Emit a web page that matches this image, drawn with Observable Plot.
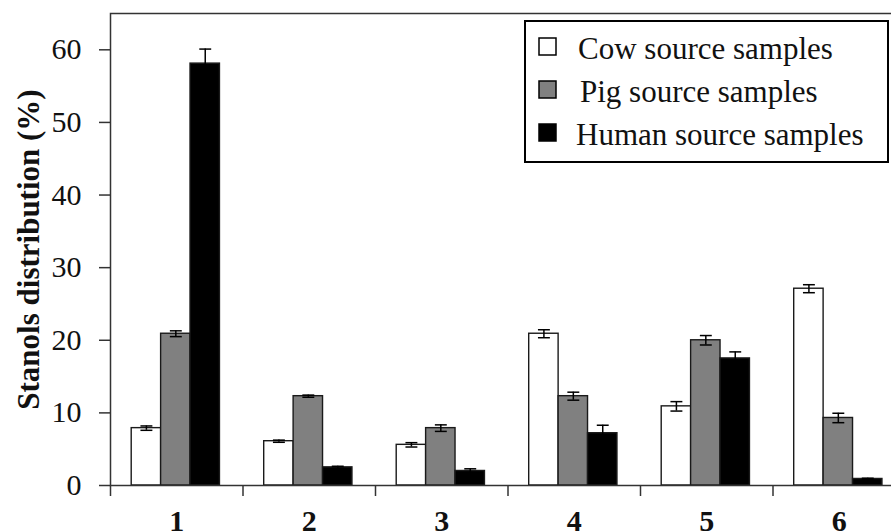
<!DOCTYPE html>
<html>
<head>
<meta charset="utf-8">
<script src="https://cdn.jsdelivr.net/npm/d3@7"></script>
<script src="https://cdn.jsdelivr.net/npm/@observablehq/plot@0.6"></script>
<style>
  html, body { margin: 0; padding: 0; background: #fff; overflow: hidden; }
  #wrap { position: relative; width: 891px; height: 532px; overflow: hidden; }
  #legend { position: absolute; left: 0; top: 0; pointer-events: none; }
  #wrap svg text { font-family: "Liberation Serif", "Times New Roman", serif; }
</style>
</head>
<body>
<div id="wrap"><div id="chart"></div><svg id="legend" width="891" height="532"></svg></div>
<script>
// ---- data ----
const groups = ["1", "2", "3", "4", "5", "6"];
const series = ["Cow source samples", "Pig source samples", "Human source samples"];
const fills = ["#ffffff", "#808080", "#000000"];
const cow = [7.9, 6.1, 5.6, 20.9, 10.9, 27.1];
const cowErr = [0.3, 0.15, 0.3, 0.55, 0.65, 0.55];
const pig = [20.9, 12.3, 7.9, 12.3, 20.0, 9.3];
const pigErr = [0.4, 0.15, 0.45, 0.55, 0.65, 0.65];
const human = [58.1, 2.5, 2.0, 7.2, 17.5, 0.9];
const humanErr = [2.0, 0.15, 0.3, 1.1, 0.9, 0.1];
const yTicks = [0, 10, 20, 30, 40, 50, 60];

// ---- table built from arrays ----
const values = [cow, pig, human];
const errs = [cowErr, pigErr, humanErr];
const padIn = 0.16, barW = 0.222, capHalf = 0.045;
const rows = [];
groups.forEach((g, i) => {
  series.forEach((s, k) => {
    const gi = i + 1;
    const x1 = gi - 0.5 + padIn + k * barW;
    const v = values[k][i], e = errs[k][i];
    rows.push({group: g, series: s, k, value: v, err: e,
      x1, x2: x1 + barW, xc: x1 + barW / 2, lo: v - e, hi: v + e, fill: fills[k]});
  });
});
const groupIdx = groups.map((g, i) => i + 1);
const bounds = groups.map((g, i) => i + 0.5).concat([groups.length + 0.5]);

const font = "'Liberation Serif', 'Times New Roman', serif";

const chart = Plot.plot({
  width: 905,
  height: 532,
  marginLeft: 110,
  marginRight: 0,
  marginTop: 13,
  marginBottom: 47,
  style: {fontFamily: font, color: "#111", background: "#fff", overflow: "visible", maxWidth: "none"},
  x: {domain: [0.5, groups.length + 0.5], axis: null},
  y: {domain: [0, 65], axis: null},
  marks: [
    Plot.rect(rows, {x1: "x1", x2: "x2", y1: 0, y2: "value", fill: "fill", stroke: "#1a1a1a", strokeWidth: 1.4}),
    Plot.ruleX(rows, {x: "xc", y1: "lo", y2: "hi", stroke: "#000", strokeWidth: 1.5}),
    Plot.link(rows, {x1: d => d.xc - capHalf, x2: d => d.xc + capHalf, y1: "hi", y2: "hi", stroke: "#000", strokeWidth: 1.5}),
    Plot.link(rows, {x1: d => d.xc - capHalf, x2: d => d.xc + capHalf, y1: "lo", y2: "lo", stroke: "#000", strokeWidth: 1.5}),
    Plot.axisY({ticks: yTicks, tickSize: 11, tickPadding: 18, fontSize: 30, label: null, stroke: "#333", strokeWidth: 1.5}),
    Plot.axisX({ticks: bounds, tickSize: 11, tickFormat: () => "", label: null, stroke: "#333", strokeWidth: 1.5}),
    Plot.axisX({ticks: groupIdx, tickSize: 0, tickPadding: 24, tickFormat: d => groups[d - 1], fontSize: 30, fontWeight: "bold", label: null}),
    Plot.frame({stroke: "#333", strokeWidth: 1.5}),
    Plot.text(["Stanols distribution (%)"], {frameAnchor: "left", textAnchor: "middle", rotate: -90, dx: -72, lineAnchor: "bottom", fontSize: 31, fontWeight: "bold", fill: "#111"})
  ]
});
document.getElementById("chart").appendChild(chart);

// ---- legend overlay ----
const lg = d3.select("#legend");
lg.append("rect").attr("x", 525).attr("y", 21).attr("width", 363).attr("height", 141)
  .attr("fill", "#fff").attr("stroke", "#000").attr("stroke-width", 2);
const rowY = [47, 90, 133];
series.forEach((s, k) => {
  lg.append("rect").attr("x", 539).attr("y", rowY[k] - 9).attr("width", 17).attr("height", 17)
    .attr("fill", fills[k]).attr("stroke", "#000").attr("stroke-width", 1.5);
  lg.append("text").attr("x", k === 1 ? 580 : (k === 2 ? 576 : 578)).attr("y", rowY[k] + 12)
    .attr("font-size", 31).attr("fill", "#111").text(s);
});
</script>
</body>
</html>
